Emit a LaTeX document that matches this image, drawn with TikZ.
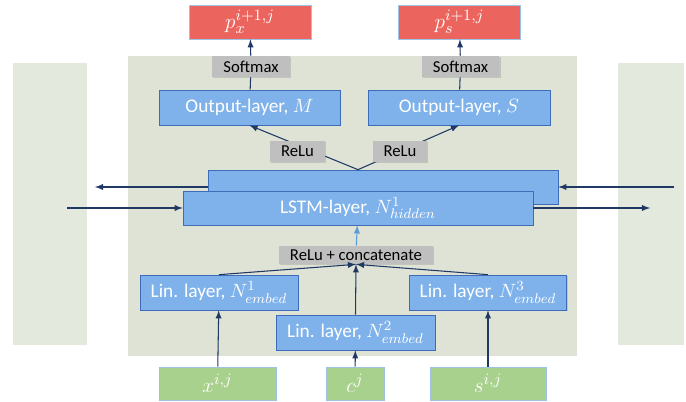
\documentclass[tikz,border=0pt]{standalone}
\usepackage{fontspec}
\setmainfont{Carlito}
\usetikzlibrary{shadows}
\definecolor{panel}{HTML}{DEE3D6}
\definecolor{sidepanel}{HTML}{E4E9DE}
\definecolor{lyr}{HTML}{7FB2EA}
\definecolor{lyredge}{HTML}{3E6CB8}
\definecolor{actfill}{HTML}{BFBFBF}
\definecolor{outp}{HTML}{EB655E}
\definecolor{inp}{HTML}{A9D18E}
\definecolor{rim}{HTML}{9DC3E6}
\definecolor{wire}{HTML}{1F3864}
\definecolor{skywire}{HTML}{5B9BD5}

\begin{document}
\begin{tikzpicture}[x=0.02cm, y=-0.02cm, >=latex,
layer/.style={draw=lyredge, fill=lyr, text=white, inner sep=0pt, minimum height=0.7cm,
  font=\fontsize{11}{13}\selectfont, drop shadow={opacity=0.3, shadow xshift=0.8pt, shadow yshift=-0.8pt}},
actbox/.style={fill=actfill, inner sep=0pt, minimum height=0.42cm, text=black,
  font=\fontsize{9.5}{11}\selectfont, drop shadow={opacity=0.3, shadow xshift=0.8pt, shadow yshift=-0.8pt}},
outbox/.style={draw=rim, fill=outp, text=white, inner sep=0pt, minimum width=2.44cm, minimum height=0.68cm,
  font=\fontsize{13}{15}\selectfont},
inbox/.style={draw=rim, fill=inp, text=white, inner sep=0pt, minimum height=0.66cm,
  font=\fontsize{13}{15}\selectfont},
wire/.style={draw=wire, line width=0.6pt}]

\useasboundingbox (0,0) rectangle (686,402);

% panels
\fill[sidepanel] (13,63) rectangle (87,345);
\fill[sidepanel] (618,63) rectangle (684,345);
\fill[panel] (128,56) rectangle (577,356);

% outputs
\node[outbox] (px) at (250,22) {$p_x^{i+1,j}$};
\node[outbox] (ps) at (459.5,22) {$p_s^{i+1,j}$};
\node[actbox, minimum width=1.56cm] (sm1) at (251,66.5) {Softmax};
\node[actbox, minimum width=1.56cm] (sm2) at (460.5,66.5) {Softmax};
\node[layer, minimum width=3.62cm] (outM) at (249.5,107.5) {Output-layer, $M$};
\node[layer, minimum width=3.64cm] (outS) at (459,107.5) {Output-layer, $S$};

% lstm
\node[layer, minimum width=7cm, minimum height=0.68cm] (lstmB) at (383,187) {};
\node[layer, minimum width=7cm, minimum height=0.68cm] (lstm) at (358,208) {LSTM-layer, $N^1_{hidden}$};
\coordinate (split) at (lstm.center |- lstmB.north);

% embedding
\node[actbox, minimum width=3.08cm, minimum height=0.36cm] (concat) at (356,255) {ReLu + concatenate};
\node[layer, minimum width=3.16cm] (lin1) at (219,292.5) {Lin. layer, $N^1_{embed}$};
\node[layer, minimum width=3.14cm] (lin3) at (488,292.5) {Lin. layer, $N^3_{embed}$};
\node[layer, minimum width=3.18cm] (lin2) at (355.5,332.5) {Lin. layer, $N^2_{embed}$};

% inputs
\node[inbox, minimum width=2.34cm] (inx) at (217.5,383.5) {$x^{i,j}$};
\node[inbox, minimum width=1.16cm] (inc) at (355,383.5) {$c^{j}$};
\node[inbox, minimum width=2.32cm] (ins) at (488,383.5) {$s^{i,j}$};

% free ends
\coordinate (lout) at (95,187);
\coordinate (rin) at (674,187);
\coordinate (lin) at (67,208);
\coordinate (rout) at (650,208);

\draw[wire,->] (inx) -- (lin1);
\draw[wire,->] (inc) -- (lin2);
\draw[wire,->] (ins) -- (lin3);
\draw[wire,->] (lin1.north) -- (concat.south);
\draw[wire,->] (lin2.north) -- (concat.south);
\draw[wire,->] (lin3.north) -- (concat.south);
\draw[draw=skywire, line width=0.6pt, ->] (concat) -- (lstm);

\draw[wire,->] (lstmB.west) -- (lout);
\draw[wire,->] (rin) -- (lstmB.east);
\draw[wire,->] (lin) -- (lstm.west);
\draw[wire,->] (lstm.east) -- (rout);

\draw[wire,->] (split) -- (outM.south);
\draw[wire,->] (split) -- (outS.south);
\draw[wire] (outM) -- (sm1);
\draw[wire] (outS) -- (sm2);
\draw[wire,->] (sm1) -- (px);
\draw[wire,->] (sm2) -- (ps);

\node[actbox, minimum width=1.1cm] (relu1) at (297.5,151.5) {ReLu};
\node[actbox, minimum width=1.08cm] (relu2) at (400,151.5) {ReLu};

\end{tikzpicture}
\end{document}
